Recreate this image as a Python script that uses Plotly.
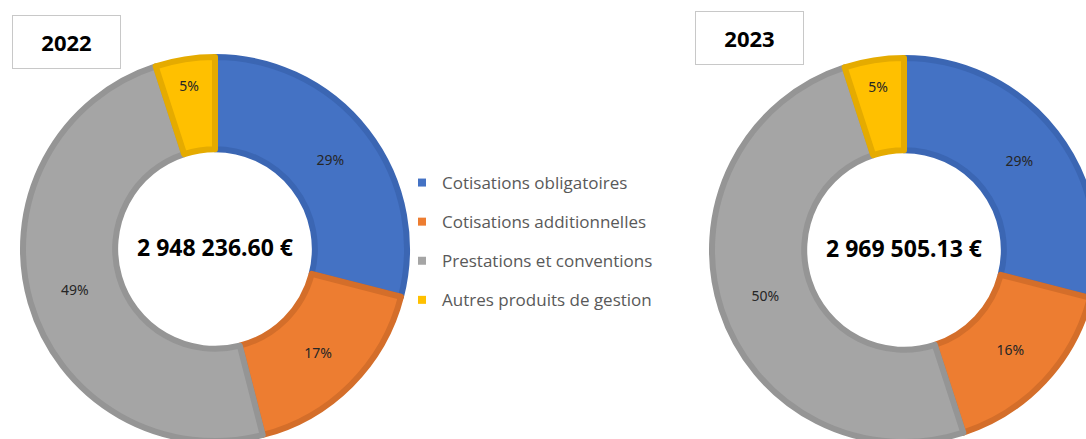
import plotly.graph_objects as go

# ---- data ----
categories = ["Cotisations obligatoires", "Cotisations additionnelles",
              "Prestations et conventions", "Autres produits de gestion"]
pct_2022 = [29, 17, 49, 5]
pct_2023 = [29, 16, 50, 5]
years = ["2022", "2023"]
totals = ["2 948 236.60 €", "2 969 505.13 €"]

fill_colors = ["#4472C4", "#ED7D31", "#A5A5A5", "#FFC000"]
line_colors = ["#3B66B3", "#D46E2A", "#959595", "#E5AB00"]

W, H = 1112, 452
R = 192  # pie radius in px


def dom(cx, cy_top):
    cy = H - cy_top
    return dict(x=[(cx - R) / W, (cx + R) / W], y=[(cy - R) / H, (cy + R) / H])


fig = go.Figure()

centers = [(215, 249), (904, 250)]
for vals, tot, (cx, cy) in zip([pct_2022, pct_2023], totals, centers):
    fig.add_trace(go.Pie(
        labels=categories, values=vals, sort=False, direction="clockwise",
        rotation=0, hole=0.52, domain=dom(cx, cy),
        marker=dict(colors=fill_colors, line=dict(color=line_colors, width=6)),
        textinfo="percent", texttemplate="%{percent:.0%}",
        textposition="inside", insidetextorientation="horizontal",
        insidetextfont=dict(family="Noto Sans", size=14, color="#262626"),
        title=dict(text="<b>" + tot + "</b>", position="middle center",
                   font=dict(family="Noto Sans", size=23, color="#000000")),
        showlegend=False, hoverinfo="label+percent",
    ))

# legend entries
for cat, col in zip(categories, fill_colors):
    fig.add_trace(go.Scatter(
        x=[None], y=[None], mode="markers", name=cat, legendgroup=cat,
        marker=dict(symbol="square", size=8, color=col),
        showlegend=True,
    ))

annotations = []
for yr, (bx, by) in zip(years, [(66, 42), (749, 38)]):
    annotations.append(dict(
        text="<b>" + yr + "</b>", x=bx / W, y=1 - by / H, xref="paper", yref="paper",
        xanchor="center", yanchor="middle", showarrow=False,
        font=dict(family="Noto Sans", size=22, color="#000000"),
        width=107, height=52, bordercolor="#C8C8C8", borderwidth=1, borderpad=0,
        bgcolor="#FFFFFF",
    ))

fig.update_layout(
    width=W, height=H, margin=dict(l=0, r=0, t=0, b=0),
    paper_bgcolor="#FFFFFF", plot_bgcolor="#FFFFFF",
    xaxis=dict(visible=False), yaxis=dict(visible=False),
    legend=dict(x=402 / W, y=1 - 165 / H, xanchor="left", yanchor="top",
                traceorder="grouped", tracegroupgap=14,
                font=dict(family="Open Sans", size=17, color="#595959"),
                bgcolor="rgba(0,0,0,0)"),
    annotations=annotations,
)

fig.write_html("out.html", config={"displayModeBar": False},
               post_script="document.body.style.margin='0';document.body.style.overflow='hidden';")
